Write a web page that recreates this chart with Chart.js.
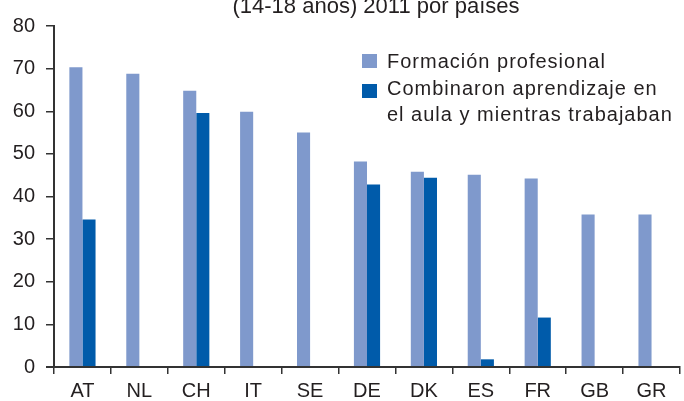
<!DOCTYPE html>
<html>
<head>
<meta charset="utf-8">
<script src="https://cdn.jsdelivr.net/npm/chart.js@4.4.0/dist/chart.umd.min.js"></script>
<style>
body{margin:0;background:#fff;font-family:'Liberation Sans',Arial,sans-serif;color:#231f20}
#wrap{position:relative;width:684px;height:401px;overflow:hidden}
#titulo{position:absolute;left:0;top:-6px;width:752px;text-align:center;font-size:22px;line-height:24px;white-space:nowrap}
#leyenda{position:absolute;left:362px;top:48px;font-size:20px;line-height:26.5px;letter-spacing:1px;white-space:nowrap}
#leyenda .sq{position:absolute;left:0;width:15px;height:14px}
#leyenda .txt{margin-left:25px}
</style>
</head>
<body>
<div id="wrap">
  <canvas id="grafico" width="684" height="401"></canvas>
  <div id="titulo">(14-18 años) 2011 por países</div>
  <div id="leyenda">
    <div class="sq" style="top:6px;background:#7f99cc"></div>
    <div class="sq" style="top:36px;background:#005baa"></div>
    <div class="txt">Formación profesional<br>Combinaron aprendizaje en<br>el aula y mientras trabajaban</div>
  </div>
</div>
<script>
var paises = ['AT','NL','CH','IT','SE','DE','DK','ES','FR','GB','GR'];
var formacion = [70.3, 68.8, 64.8, 59.9, 55.0, 48.2, 45.8, 45.1, 44.2, 35.8, 35.8];
var combinaron = [34.6, null, 59.6, null, null, 42.8, 44.4, 1.8, 11.6, null, null];
var yMin = 0, yMax = 80, yPaso = 10;

Chart.defaults.font.family = "'Liberation Sans', Arial, sans-serif";
Chart.defaults.font.size = 20;
Chart.defaults.color = '#231f20';

new Chart(document.getElementById('grafico'), {
  type: 'bar',
  data: {
    labels: paises,
    datasets: [
      {label: 'Formación profesional', data: formacion, backgroundColor: '#7f99cc',
       categoryPercentage: 0.46, barPercentage: 1.0, borderWidth: 0},
      {label: 'Combinaron aprendizaje en el aula y mientras trabajaban', data: combinaron, backgroundColor: '#005baa',
       categoryPercentage: 0.46, barPercentage: 1.0, borderWidth: 0}
    ]
  },
  options: {
    responsive: false,
    animation: false,
    layout: {padding: {top: 26, right: 4, bottom: 0, left: 0}},
    plugins: {legend: {display: false}, tooltip: {enabled: false}},
    scales: {
      x: {
        offset: true,
        grid: {drawOnChartArea: false, drawTicks: true, tickLength: 7, color: '#333', lineWidth: 1.5, offset: true},
        border: {color: '#333', width: 2},
        ticks: {padding: 5},
        afterFit: function(s){ s.height = 34; }
      },
      y: {
        min: yMin, max: yMax,
        grid: {drawOnChartArea: false, tickLength: 8, color: '#333',
               lineWidth: function(c){ return c.tick && c.tick.value === 0 ? 2 : 1.5; }},
        border: {color: '#333', width: 2},
        ticks: {stepSize: yPaso, padding: 11},
        afterFit: function(s){ s.width = 54; }
      }
    }
  }
});
</script>
</body>
</html>
